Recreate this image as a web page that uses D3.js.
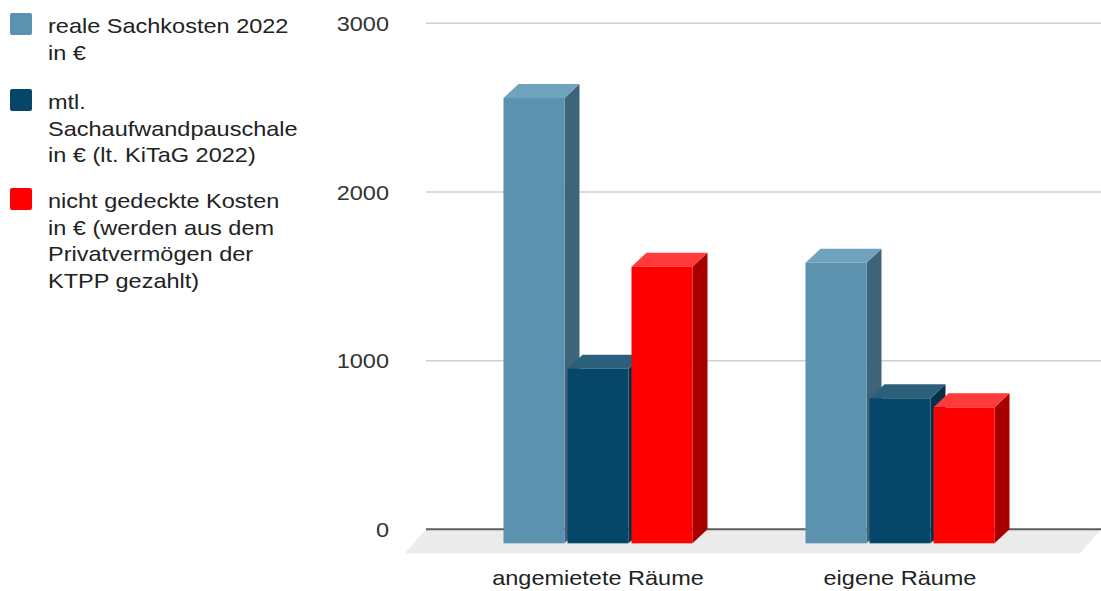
<!DOCTYPE html>
<html>
<head>
<meta charset="utf-8">
<script src="https://cdn.jsdelivr.net/npm/d3@7"></script>
<style>
  html, body { margin: 0; padding: 0; background: #fff; }
  svg { display: block; font-family: "Liberation Sans", Arial, sans-serif; }
</style>
</head>
<body>
<svg id="chart" width="1101" height="591"></svg>
<script>
const categories = ["angemietete Räume", "eigene Räume"];
const seriesNames = ["reale Sachkosten 2022 in €", "mtl. Sachaufwandpauschale in € (lt. KiTaG 2022)", "nicht gedeckte Kosten in € (werden aus dem Privatvermögen der KTPP gezahlt)"];
const realeSachkosten = [2640, 1663];
const sachaufwandpauschale = [1035, 860];
const nichtGedeckt = [1640, 806];
const yTicks = [0, 1000, 2000, 3000];
const legendLines = [
  ["reale Sachkosten 2022", "in €"],
  ["mtl.", "Sachaufwandpauschale", "in € (lt. KiTaG 2022)"],
  ["nicht gedeckte Kosten", "in € (werden aus dem", "Privatvermögen der", "KTPP gezahlt)"]
];

const seriesValues = [realeSachkosten, sachaufwandpauschale, nichtGedeckt];
const colors = [
  { front: "#5a92b0", top: "#6fa2bd", side: "#3e6479" },
  { front: "#054669", top: "#2c5f7b", side: "#03304a" },
  { front: "#ff0000", top: "#ff3a3a", side: "#a80000" }
];

const svg = d3.select("#chart");
const SX = 1.12;           // horizontal stretch of text
const FS = 21;
const DX = 15, DY = 14;    // 3D depth offset (back plane is +DX, -DY from front)

const y = d3.scaleLinear().domain([0, 3000]).range([529.3, 23.3]);
const x0 = d3.scaleBand().domain(categories).range([462, 1066]);
const x1 = d3.scaleBand().domain(d3.range(seriesNames.length)).range([0, 189]).paddingInner(0.047);
const groupOffset = (x0.bandwidth() - 189) / 2;

// floor
const y0 = y(0);
svg.append("polygon")
  .attr("points", [[426, y0], [1101, y0], [1080, y0 + 24], [405, y0 + 24]].map(p => p.join(",")).join(" "))
  .attr("fill", "#ebebeb");

// gridlines (back plane)
svg.append("g").selectAll("line").data(yTicks).join("line")
  .attr("x1", 426).attr("x2", 1101)
  .attr("y1", d => y(d)).attr("y2", d => y(d))
  .attr("stroke", d => d === 0 ? "#5e5e5e" : "#cfcfcf")
  .attr("stroke-width", d => d === 0 ? 2 : 1.5);

// y tick labels
svg.append("g").selectAll("text").data(yTicks).join("text")
  .attr("transform", d => `translate(389,${y(d)}) scale(${SX},1)`)
  .attr("dy", "0.36em")
  .attr("text-anchor", "end")
  .attr("font-size", FS)
  .attr("fill", "#333")
  .text(d => d);

// bars
const bars = [];
categories.forEach((c, j) => {
  seriesValues.forEach((vals, i) => {
    bars.push({ cat: c, s: i, v: vals[j] });
  });
});
const bw = x1.bandwidth();
const gBars = svg.append("g");
bars.forEach(b => {
  const bx = x0(b.cat) + groupOffset + x1(b.s);   // back-plane left
  const fx = bx - DX;                              // front-plane left
  const yv = y(b.v);
  const col = colors[b.s];
  const g = gBars.append("g");
  g.append("polygon")
    .attr("points", [[fx + bw, yv + DY], [fx + bw + DX, yv], [fx + bw + DX, y0], [fx + bw, y0 + DY]].map(p => p.join(",")).join(" "))
    .attr("fill", col.side);
  g.append("polygon")
    .attr("points", [[fx, yv + DY], [fx + DX, yv], [fx + bw + DX, yv], [fx + bw, yv + DY]].map(p => p.join(",")).join(" "))
    .attr("fill", col.top);
  g.append("rect")
    .attr("x", fx).attr("y", yv + DY)
    .attr("width", bw).attr("height", y0 - yv)
    .attr("fill", col.front);
});

// category labels
svg.append("g").selectAll("text").data(categories).join("text")
  .attr("transform", d => `translate(${x0(d) + x0.bandwidth() / 2 - DX},585) scale(${SX},1)`)
  .attr("text-anchor", "middle")
  .attr("font-size", FS)
  .attr("fill", "#222")
  .text(d => d);

// legend
const legendTop = [13, 89, 188];
const lineH = 26.6;
const lg = svg.append("g");
legendLines.forEach((lines, i) => {
  lg.append("rect")
    .attr("x", 10).attr("y", legendTop[i])
    .attr("width", 22).attr("height", 22)
    .attr("rx", 2)
    .attr("fill", colors[i].front);
  lines.forEach((ln, k) => {
    lg.append("text")
      .attr("transform", `translate(48,${legendTop[i] + 20 + k * lineH}) scale(${SX},1)`)
      .attr("font-size", FS)
      .attr("fill", "#222")
      .text(ln);
  });
});
</script>
</body>
</html>
